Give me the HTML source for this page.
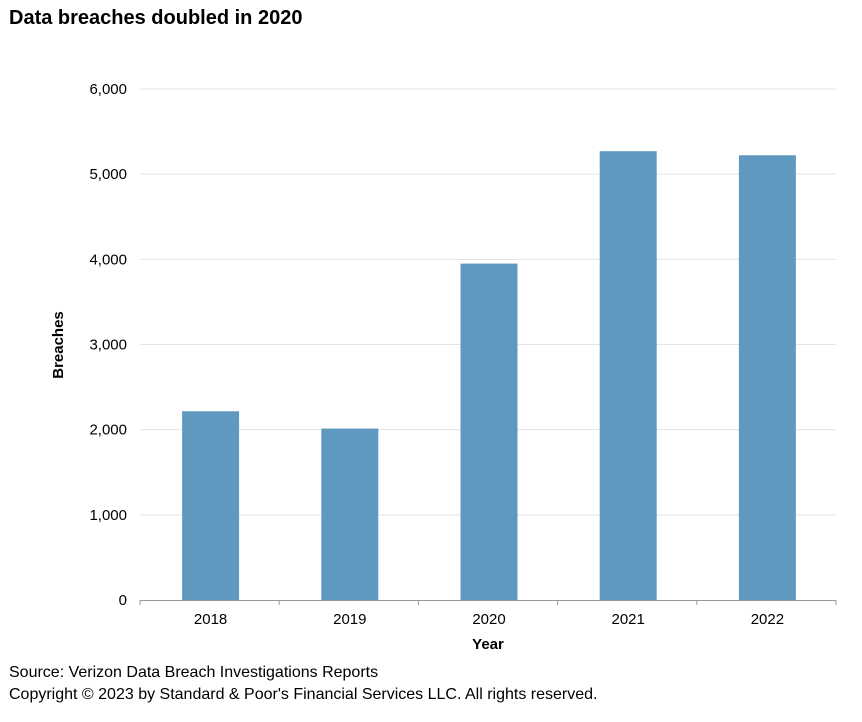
<!DOCTYPE html>
<html><head><meta charset="utf-8">
<style>
body{margin:0;background:#fff;font-family:"Liberation Sans",Arial,sans-serif;}
svg{display:block}
</style></head>
<body>
<svg id="chart" width="862" height="722">
<text x="9" y="24" font-size="20" font-weight="bold" fill="#000">Data breaches doubled in 2020</text>
<g id="grid"></g>
<g id="bars"></g>
<g id="axes"></g>
<text transform="translate(63,345) rotate(-90)" text-anchor="middle" font-size="15" font-weight="bold">Breaches</text>
<text x="488" y="649" text-anchor="middle" font-size="15" font-weight="bold">Year</text>
<text x="9" y="677" font-size="16">Source: Verizon Data Breach Investigations Reports</text>
<text x="9" y="699" font-size="16">Copyright © 2023 by Standard &amp; Poor's Financial Services LLC. All rights reserved.</text>
</svg>
<script>
const categories=["2018","2019","2020","2021","2022"];
const breaches=[2216,2013,3950,5270,5222];
const yTicks=[0,1000,2000,3000,4000,5000,6000];
const yTickLabels=["0","1,000","2,000","3,000","4,000","5,000","6,000"];
const X0=140,X1=836,Y0=600,Y1=89,YMAX=6000;
const ns="http://www.w3.org/2000/svg";
function y(v){return Y0-(v/YMAX)*(Y0-Y1);}
function bandW(){return (X1-X0)/categories.length;}
function xc(i){return X0+bandW()*(i+0.5)+1;}
function mk(tag,attrs,parent){const e=document.createElementNS(ns,tag);for(const k in attrs)e.setAttribute(k,attrs[k]);document.getElementById(parent).appendChild(e);return e;}
yTicks.forEach((t,i)=>{
  if(t>0){const l=mk("line",{x1:X0,x2:X1,y1:y(t),y2:y(t),stroke:"#e3e3e3","stroke-width":1},"grid");
  
  }
  const tx=mk("text",{x:127,y:y(t)+5,"text-anchor":"end","font-size":15},"axes");
  tx.textContent=yTickLabels[i];
  
  
});
const bw=57;
categories.forEach((c,i)=>{
  const r=mk("rect",{x:xc(i)-bw/2,y:y(breaches[i]),width:bw,height:Y0-y(breaches[i]),fill:"#6099bf"},"bars");
  
  
  const tx=mk("text",{x:xc(i),y:624,"text-anchor":"middle","font-size":15},"axes");
  tx.textContent=c;
  
  
});
for(let i=0;i<=categories.length;i++){
  const tk=mk("line",{x1:X0+bandW()*i,x2:X0+bandW()*i,y1:Y0,y2:Y0+5,stroke:"#999"},"axes");
  
  
}
const ax=mk("line",{x1:X0,x2:X1,y1:Y0+0.5,y2:Y0+0.5,stroke:"#999"},"axes");


</script>
</body></html>
